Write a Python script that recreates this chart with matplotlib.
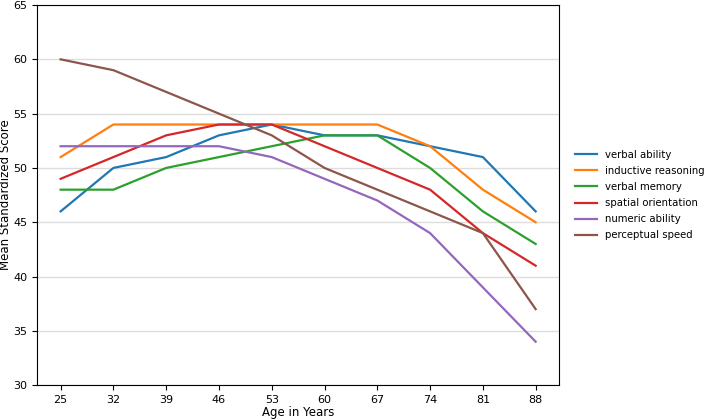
import matplotlib.pyplot as plt

# Edad en años
ages = [25, 32, 39, 46, 53, 60, 67, 74, 81, 88]

verbal_ability = [46, 50, 51, 53, 54, 53, 53, 52, 51, 46]
inductive_reasoning = [51, 54, 54, 54, 54, 54, 54, 52, 48, 45]
verbal_memory = [48, 48, 50, 51, 52, 53, 53, 50, 46, 43]
spatial_orientation = [49, 51, 53, 54, 54, 52, 50, 48, 44, 41]
numeric_ability = [52, 52, 52, 52, 51, 49, 47, 44, 39, 34]
perceptual_speed = [60, 59, 57, 55, 53, 50, 48, 46, 44, 37]

series = [
    ("verbal ability", verbal_ability),
    ("inductive reasoning", inductive_reasoning),
    ("verbal memory", verbal_memory),
    ("spatial orientation", spatial_orientation),
    ("numeric ability", numeric_ability),
    ("perceptual speed", perceptual_speed),
]

fig = plt.figure(figsize=(7.09, 4.2), dpi=100)
ax = fig.add_axes([0.052, 0.083, 0.737, 0.905])

for nombre, valores in series:
    ax.plot(ages, valores, label=nombre, linewidth=1.6)

ax.set_ylim(30, 65)
ax.set_xticks(ages)
ax.grid(axis='y', color='#dddddd', linewidth=1)
ax.set_axisbelow(True)
ax.tick_params(labelsize=8)
ax.set_xlabel("Age in Years", fontsize=8.5, labelpad=1)
ax.set_ylabel("Mean Standardized Score", fontsize=8.5, labelpad=1)
ax.legend(loc='center left', bbox_to_anchor=(1.012, 0.5), frameon=False,
          fontsize=7.3, handlelength=2.2, labelspacing=0.6)

fig.savefig("out.png", dpi=100)
